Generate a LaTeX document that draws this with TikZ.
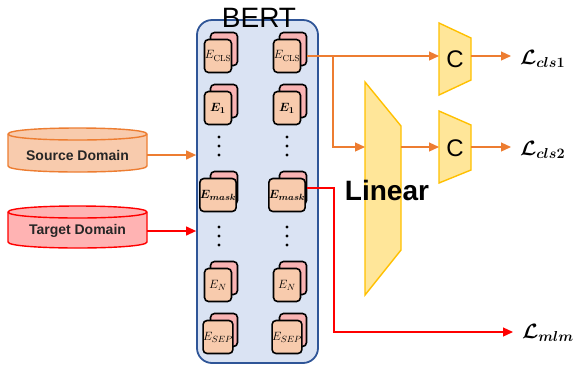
\documentclass[tikz,border=0pt]{standalone}
\usepackage{amsmath,bm}
\usepackage{fontspec}
\setsansfont{Liberation Sans}
\usetikzlibrary{arrows.meta,calc}
\definecolor{bertfill}{HTML}{DAE3F3}
\definecolor{bertline}{HTML}{2F5597}
\definecolor{cardfront}{HTML}{F8CBAD}
\definecolor{cardback}{HTML}{F9B3B3}
\definecolor{orng}{HTML}{ED7D31}
\definecolor{srcfill}{HTML}{F8CBAD}
\definecolor{tgtfill}{HTML}{FFB3B3}
\definecolor{rd}{HTML}{FF0000}
\definecolor{yfill}{HTML}{FFE699}
\definecolor{yline}{HTML}{FFC000}
\newcommand{\tokcard}[4]{%
  \node[backcard] (#1b) at (#2+6,#3-7) {};
  \node[frontcard] (#1) at (#2,#3) {#4};}
\begin{document}
\begin{tikzpicture}[x=1pt,y=-1pt,
  bertbox/.style={draw=bertline,line width=1.8pt,fill=bertfill,rounded corners=15pt,minimum width=121pt,minimum height=343pt,inner sep=0pt},
  berttext/.style={font=\fontsize{28}{28}\selectfont\sffamily,inner sep=0pt},
  backcard/.style={draw=black,line width=1.6pt,fill=cardback,rounded corners=4pt,minimum width=27pt,minimum height=33pt,inner sep=0pt},
  frontcard/.style={draw=black,line width=1.6pt,fill=cardfront,rounded corners=4pt,minimum width=27pt,minimum height=33pt,inner sep=0pt,font=\fontsize{12.5}{14}\selectfont},
  domtext/.style={font=\fontsize{14}{15}\selectfont\sffamily\bfseries,minimum width=139pt,inner sep=0pt,text=black!85},
  trap/.style={draw=yline,line width=1.4pt,fill=yfill,line join=miter},
  oarrow/.style={draw=orng,line width=1.2pt,-{Triangle[length=10pt,width=9pt]}},
  rarrow/.style={draw=rd,line width=1.2pt,-{Triangle[length=10pt,width=9pt]}},
  losslab/.style={anchor=west,inner sep=0pt,outer xsep=9pt,font=\fontsize{22}{24}\selectfont\boldmath},
  ctext/.style={font=\fontsize{24}{24}\selectfont\sffamily,inner sep=0pt},
  lintext/.style={font=\fontsize{28}{28}\selectfont\sffamily\bfseries,inner sep=0pt}]
\useasboundingbox (0,0) rectangle (578,365);

% BERT box
\node[bertbox] (bert) at (257.5,191.5) {};
\node[berttext] (berttitle) at (259,18) {BERT};

% token cards
\tokcard{cls1}{218}{56}{$E_{\mathrm{CLS}}$}
\tokcard{cls2}{287}{56}{$E_{\mathrm{CLS}}$}
\tokcard{one1}{218}{108}{$\bm{E_1}$}
\tokcard{one2}{287}{108}{$\bm{E_1}$}
\tokcard{mask1}{218}{195}{$\bm{E_{mask}}$}
\tokcard{mask2}{287}{195}{$\bm{E_{mask}}$}
\tokcard{n1}{218}{285}{$E_N$}
\tokcard{n2}{287}{285}{$E_N$}
\tokcard{sep1}{218}{337}{$E_{SEP}$}
\tokcard{sep2}{287}{337}{$E_{SEP}$}
\foreach \xx in {219,287} \foreach \yy in {137,146,155,227,236,245}
  \fill (\xx,\yy) circle (1.6);

% domain cylinders
\filldraw[draw=orng,fill=srcfill,line width=1.4pt]
  (8,134) -- (8,166) .. controls (8,174) and (147,174) .. (147,166) -- (147,134)
  .. controls (147,126) and (8,126) .. (8,134) -- cycle;
\draw[draw=orng,line width=1.4pt] (8,134) .. controls (8,142) and (147,142) .. (147,134);
\node[domtext] (src) at (77.5,155) {Source Domain};

\filldraw[draw=rd,fill=tgtfill,line width=1.4pt]
  (8,212) -- (8,242) .. controls (8,250) and (147,250) .. (147,242) -- (147,212)
  .. controls (147,204) and (8,204) .. (8,212) -- cycle;
\draw[draw=rd,line width=1.4pt] (8,212) .. controls (8,220) and (147,220) .. (147,212);
\node[domtext] (tgt) at (77.5,231) {Target Domain};

\draw[oarrow] (src.east) -- (src.east -| bert.west);
\draw[rarrow] (tgt.east) -- (tgt.east -| bert.west);

% Linear and classifiers
\draw[trap] (365,82) -- (401,126) -- (401,250) -- (365,295) -- cycle;
\coordinate (linw) at (365,147);
\coordinate (line) at (401,147);
\draw[trap] (439,23) -- (471,38) -- (471,80) -- (439,95) -- cycle;
\node[ctext] (c1) at (455,59) {C};
\coordinate (c1w) at (439,56);
\coordinate (c1e) at (471,56);
\draw[trap] (439,111) -- (471,125) -- (471,170) -- (439,183) -- cycle;
\node[ctext] (c2) at (455,148) {C};
\coordinate (c2w) at (439,147);
\coordinate (c2e) at (471,147);
\node[lintext] (lin) at (387,190) {Linear};

% loss labels
\node[losslab] (lcls1) at (511,59) {$\bm{\mathcal{L}_{cls1}}$};
\node[losslab] (lcls2) at (511,150) {$\bm{\mathcal{L}_{cls2}}$};
\node[losslab] (lmlm) at (513,333) {$\bm{\mathcal{L}_{mlm}}$};

% connectors
\coordinate (j1) at (333,56);
\coordinate (j2) at (334,332);
\draw[oarrow] (cls2b.east |- cls2.center) -- (c1w);
\draw[oarrow] (j1) |- (linw);
\draw[oarrow] (line) -- (c2w);
\draw[oarrow] (c1e) -- (c1e -| lcls1.west);
\draw[oarrow] (c2e) -- (c2e -| lcls2.west);
\draw[rarrow] (mask2b.east) -| (j2) -- (j2 -| lmlm.west);
\end{tikzpicture}
\end{document}
